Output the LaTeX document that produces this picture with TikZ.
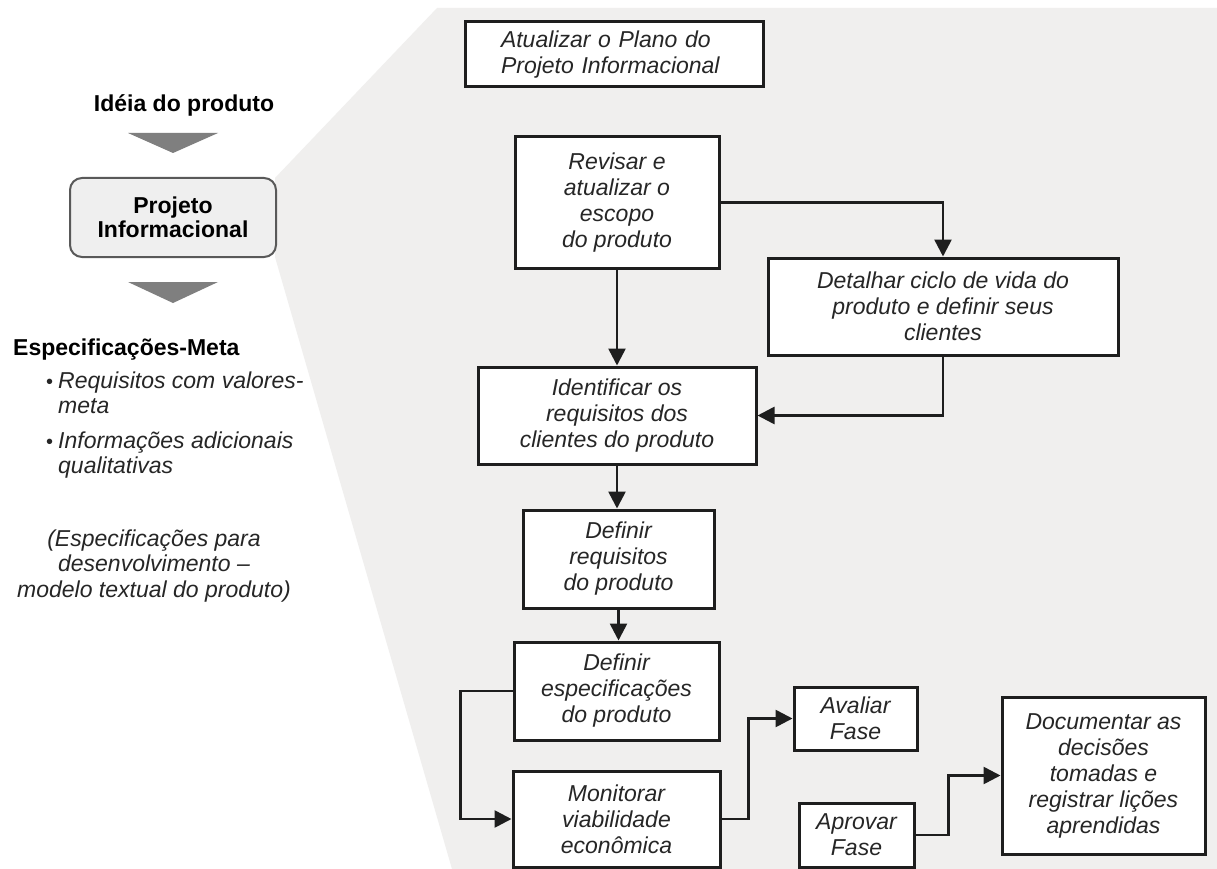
\documentclass[tikz,border=0pt]{standalone}
\usepackage{fontspec}
\setmainfont{Liberation Sans}
\usetikzlibrary{arrows.meta,calc}
\definecolor{panel}{HTML}{F0EFEE}
\definecolor{ink}{HTML}{1E1E1E}
\definecolor{txt}{HTML}{262626}
\definecolor{chev}{HTML}{7F7F7F}
\definecolor{phase}{HTML}{EFEFEF}
\newcommand\bulletfont{\fontsize{20}{25.5}\selectfont\upshape}
\tikzset{
  every node/.style={font=\fontsize{23}{26}\selectfont\itshape, text=txt},
  task/.style={draw=ink, line width=3pt, fill=white, align=center, inner sep=0pt},
  link/.style={draw=ink, line width=2.6pt, -{Triangle[length=17pt,width=17pt]}},
  headline/.style={font=\fontsize{23}{26}\selectfont\bfseries, text=black, align=center, inner sep=0pt},
  note/.style={font=\fontsize{23}{25.5}\selectfont\itshape, text=txt, inner sep=0pt},
}
\begin{document}
\begin{tikzpicture}[x=1pt,y=-1pt]
\useasboundingbox (0,0) rectangle (1217,869);
\fill[white] (0,0) rectangle (1217,869);

% detail panel of the informational design phase
\fill[panel] (275,178) -- (437,8) -- (1217,8) -- (1217,869) -- (452,869) -- (275,257) -- cycle;

% phase overview on the left
\node[headline] (idea) at (184,105) {Idéia do produto};
\fill[chev] (128,133) -- (218,133) -- (173,153) -- cycle;
\node[draw=black!65, line width=2pt, fill=phase, rounded corners=12pt,
      minimum width=206pt, minimum height=79pt, headline] (proj) at (173,217.5)
      {Projeto\\[-2pt]Informacional};
\fill[chev] (128,282) -- (218,282) -- (173,303) -- cycle;
\node[headline, anchor=west] (spec) at (13,350) {Especificações-Meta};
\node[note, anchor=north west, align=left] (item1) at (46,370)
  {\begin{tabular}{@{}l@{\hspace{5pt}}l@{}}{\bulletfont•} & Requisitos com valores-\\[-0.5pt] & meta\end{tabular}};
\node[note, anchor=north west, align=left] (item2) at (46,430)
  {\begin{tabular}{@{}l@{\hspace{5pt}}l@{}}{\bulletfont•} & Informações adicionais\\[-0.5pt] & qualitativas\end{tabular}};
\node[note, align=center] (model) at (154,566)
  {(Especificações para\\desenvolvimento –\\modelo textual do produto)};

% activities
\node[task, minimum width=298pt, minimum height=65pt, text width=226pt, align=left] (plan) at (614,54.5)
  {Atualizar o Plano do\\Projeto Informacional};
\node[task, minimum width=204pt, minimum height=131pt] (rev) at (617,202.5)
  {Revisar e\\atualizar o\\escopo\\do produto};
\node[task, minimum width=350pt, minimum height=97pt] (life) at (943,306.5)
  {Detalhar ciclo de vida do\\produto e definir seus\\clientes};
\node[task, minimum width=278pt, minimum height=97pt] (ident) at (617,415.5)
  {Identificar os\\requisitos dos\\clientes do produto};
\node[task, minimum width=191pt, minimum height=98pt] (req) at (618.5,559)
  {Definir\\requisitos\\do produto};
\node[task, minimum width=205pt, minimum height=98pt] (espec) at (616.5,691)
  {Definir\\especificações\\do produto};
\node[task, minimum width=207pt, minimum height=96pt] (monit) at (616.5,819)
  {Monitorar\\viabilidade\\econômica};
\node[task, minimum width=123pt, minimum height=63pt] (eval) at (855.5,718.5)
  {Avaliar\\Fase};
\node[task, minimum width=115pt, minimum height=64pt] (appr) at (856.5,835)
  {Aprovar\\Fase};
\node[task, minimum width=203pt, minimum height=157pt] (doc) at (1103.5,775.5)
  {Documentar as\\decisões\\tomadas e\\registrar lições\\aprendidas};

% flow between activities
\draw[link] (rev.east) -| (life.north);
\draw[link] (rev.south) -- (ident.north);
\draw[link] (life.south) |- (ident.east);
\draw[link] (ident.south) -- (ident.south |- req.north);
\draw[link] (req.south) -- (req.south |- espec.north);
\draw[link] (espec.west) -- ++(-52,0) |- (monit.west);
\draw[link] (monit.east) -- ++(27,0) |- (eval.west);
\draw[link] (appr.east) -- ++(33,0) |- (doc.west);
\end{tikzpicture}
\end{document}
